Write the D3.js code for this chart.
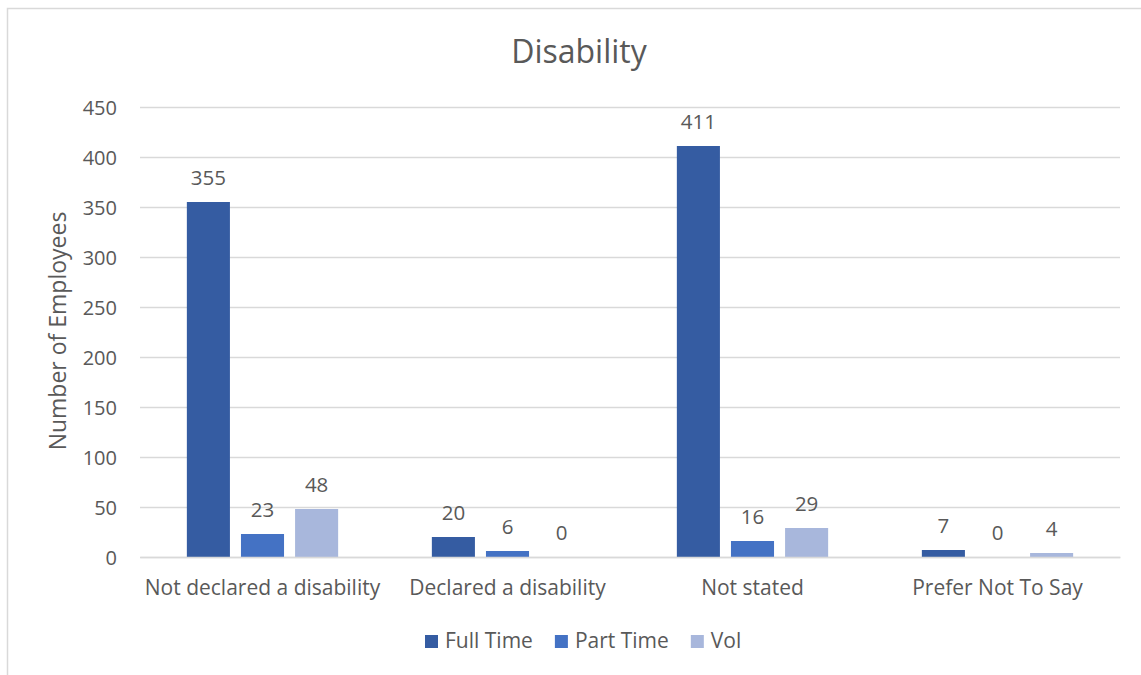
<!DOCTYPE html>
<html><head><meta charset="utf-8">
<script src="https://cdn.jsdelivr.net/npm/d3@7"></script>
<style>
html,body{margin:0;padding:0;background:#fff;}
svg{display:block;font-family:"Open Sans",sans-serif;}
</style></head>
<body>
<svg id="chart" width="1141" height="675"></svg>
<script>
const categories = ["Not declared a disability","Declared a disability","Not stated","Prefer Not To Say"];
const seriesNames = ["Full Time","Part Time","Vol"];
const fullTime = [355, 20, 411, 7];
const partTime = [23, 6, 16, 0];
const vol = [48, 0, 29, 4];
const yTicks = [0,50,100,150,200,250,300,350,400,450];
const colors = ["#355ca2","#4472c4","#a8b7dc"];
const seriesValues = [fullTime, partTime, vol];

(function(){
const svg = d3.select("#chart");
const textColor = "#595959";

// frame
svg.append("rect").attr("x",7.5).attr("y",8.5).attr("width",1140).attr("height",700)
  .attr("fill","none").attr("stroke","#d9d9d9").attr("stroke-width",1.5);

const pLeft = 140, pRight = 1120, pTop = 107, pBottom = 557;
const y = d3.scaleLinear().domain([0,450]).range([pBottom, pTop]);
const x0 = d3.scaleBand().domain(categories).range([pLeft, pRight]).padding(0);
const x1 = d3.scaleBand().domain(seriesNames).range([0, x0.bandwidth()])
  .paddingInner(0.204).paddingOuter(0.866);

// gridlines
const yAxis = d3.axisLeft(y).tickValues(yTicks).tickSize(-(pRight-pLeft)).tickPadding(23);
const gy = svg.append("g").attr("transform",`translate(${pLeft},0)`).call(yAxis);
gy.select(".domain").remove();
gy.selectAll(".tick line").attr("stroke","#d9d9d9").attr("stroke-width",1.5);
gy.selectAll(".tick text").attr("fill",textColor).attr("font-size",20)
  .attr("font-family","Open Sans").attr("dy","0.35em");

// bars
const groups = svg.append("g").selectAll("g").data(categories).join("g")
  .attr("transform", d => `translate(${x0(d)},0)`);
groups.each(function(cat, ci){
  const g = d3.select(this);
  seriesNames.forEach((s, si) => {
    const v = seriesValues[si][ci];
    g.append("rect").attr("x", x1(s)).attr("width", x1.bandwidth())
      .attr("y", y(v)).attr("height", y(0)-y(v)).attr("fill", colors[si]);
    g.append("text").attr("x", x1(s)+x1.bandwidth()/2).attr("y", y(v)-17)
      .attr("text-anchor","middle").attr("fill",textColor).attr("font-size",20.5)
      .text(v);
  });
});

// category axis labels
const gx = svg.append("g").attr("transform",`translate(0,${pBottom})`)
  .call(d3.axisBottom(x0).tickSize(0).tickPadding(0));
gx.select(".domain").attr("stroke","#d9d9d9").attr("stroke-width",1.5);
gx.selectAll(".tick text").attr("fill",textColor).attr("font-size",21)
  .attr("font-family","Open Sans").attr("dy",0).attr("y",38);

// title
svg.append("text").attr("x",579).attr("y",63).attr("text-anchor","middle")
  .attr("fill",textColor).attr("font-size",32).text("Disability");

// y axis title
svg.append("text").attr("transform","translate(66,331) rotate(-90)")
  .attr("text-anchor","middle").attr("fill",textColor).attr("font-size",23)
  .text("Number of Employees");

// legend
const lg = svg.append("g");
let lx = 425;
seriesNames.forEach((s, i) => {
  lg.append("rect").attr("x", lx).attr("y", 635).attr("width", 13).attr("height", 13).attr("fill", colors[i]);
  const t = lg.append("text").attr("x", lx+20).attr("y", 648).attr("fill", textColor)
    .attr("font-size", 21).text(s);
  lx += 20 + t.node().getComputedTextLength() + 22;
});
})();
</script>
</body></html>
